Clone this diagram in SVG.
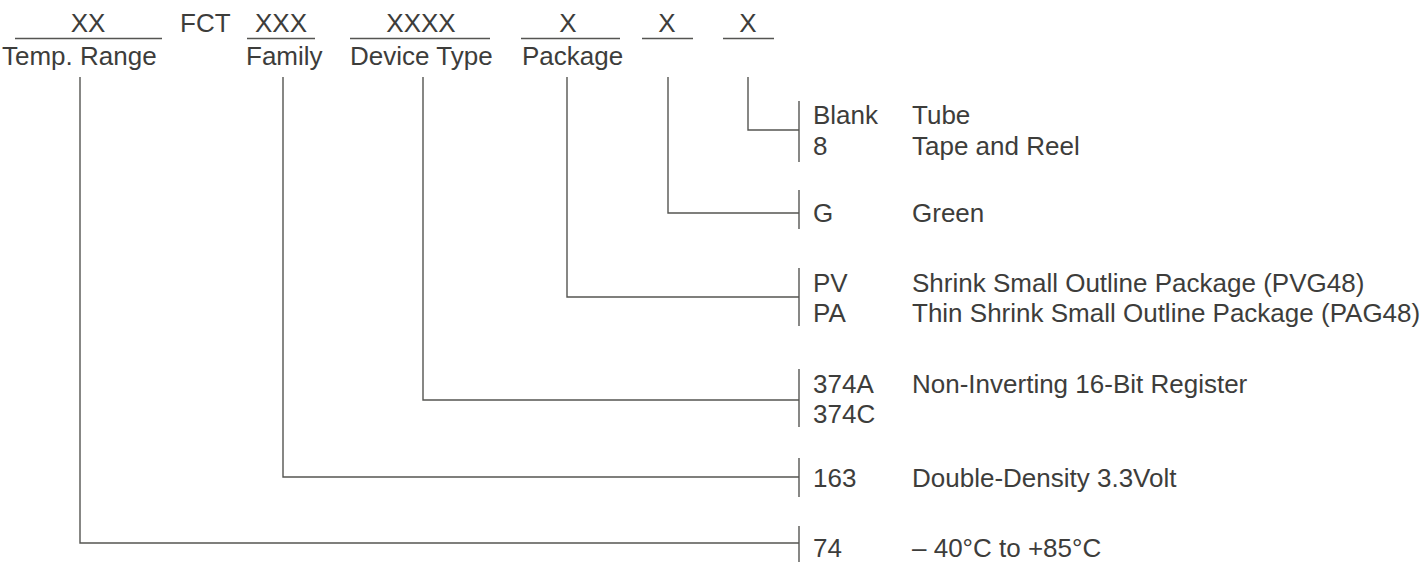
<svg xmlns="http://www.w3.org/2000/svg" width="1425" height="562" viewBox="0 0 1425 562">
<style>
text{font-family:"Liberation Sans",Arial,sans-serif;font-size:26px;fill:#3d3d3b}
.m{text-anchor:middle}
line,path{stroke:#555552;stroke-width:1.4;fill:none}
</style>
<rect width="1425" height="562" fill="#fff"/>
<g id="header">
<g id="temp-range"><text class="m" x="88" y="32">XX</text><line x1="15" y1="38.5" x2="162" y2="38.5"/><text x="2" y="65">Temp. Range</text></g>
<g id="fct"><text x="180" y="32">FCT</text></g>
<g id="family"><text class="m" x="281" y="32">XXX</text><line x1="247" y1="38.5" x2="315" y2="38.5"/><text x="246" y="65">Family</text></g>
<g id="device-type"><text class="m" x="421" y="32">XXXX</text><line x1="350" y1="38.5" x2="490" y2="38.5"/><text x="350" y="65">Device Type</text></g>
<g id="package"><text class="m" x="568" y="32">X</text><line x1="521" y1="38.5" x2="620" y2="38.5"/><text x="522" y="65">Package</text></g>
<g id="green-x"><text class="m" x="667" y="32">X</text><line x1="642" y1="38.5" x2="693" y2="38.5"/></g>
<g id="reel-x"><text class="m" x="748" y="32">X</text><line x1="723" y1="38.5" x2="774" y2="38.5"/></g>
</g>
<g id="connectors">
<path d="M748 77V130H799"/>
<path d="M668 77V213H799"/>
<path d="M567 77V297H799"/>
<path d="M423 77V400H799"/>
<path d="M283 77V477H799"/>
<path d="M80 77V543H799"/>
<line x1="799" y1="101" x2="799" y2="162"/>
<line x1="799" y1="190" x2="799" y2="229"/>
<line x1="799" y1="268" x2="799" y2="326"/>
<line x1="799" y1="369" x2="799" y2="427"/>
<line x1="799" y1="458" x2="799" y2="497"/>
<line x1="799" y1="526" x2="799" y2="562"/>
</g>
<g id="opt-packing"><text x="813" y="124">Blank</text><text x="912" y="124">Tube</text><text x="813" y="155">8</text><text x="912" y="155">Tape and Reel</text></g>
<g id="opt-green"><text x="813" y="222">G</text><text x="912" y="222">Green</text></g>
<g id="opt-package"><text x="813" y="292">PV</text><text x="912" y="292">Shrink Small Outline Package (PVG48)</text><text x="813" y="322">PA</text><text x="912" y="322">Thin Shrink Small Outline Package (PAG48)</text></g>
<g id="opt-device"><text x="813" y="393">374A</text><text x="912" y="393">Non-Inverting 16-Bit Register</text><text x="813" y="423">374C</text></g>
<g id="opt-family"><text x="813" y="487">163</text><text x="912" y="487">Double-Density 3.3Volt</text></g>
<g id="opt-temp"><text x="813" y="557">74</text><text x="912" y="557">– 40°C to +85°C</text></g>
</svg>
